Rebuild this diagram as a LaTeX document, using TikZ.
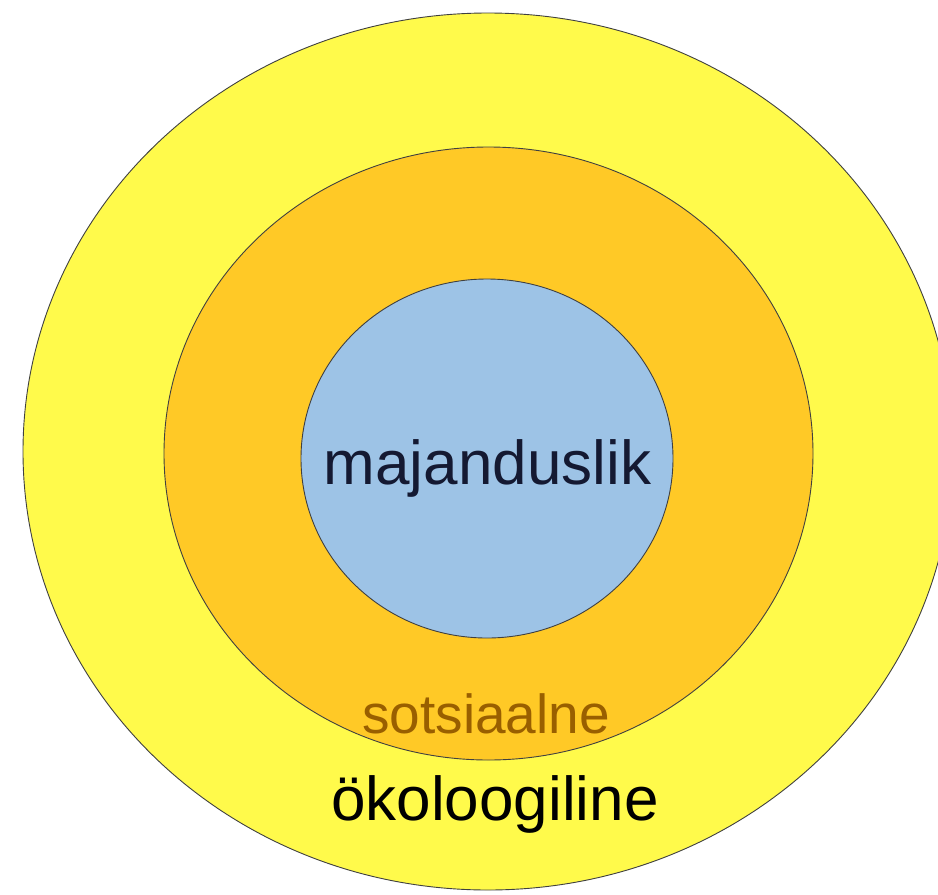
\documentclass[tikz,border=0pt]{standalone}
\usepackage{fontspec}
\setmainfont{Liberation Sans}
\usetikzlibrary{shapes.geometric}
\definecolor{okoyellow}{RGB}{255,250,75}
\definecolor{sotsorange}{RGB}{255,201,38}
\definecolor{majblue}{RGB}{157,195,230}
\definecolor{sotstext}{RGB}{153,95,0}
\definecolor{majtext}{RGB}{20,25,50}
\tikzset{
  ring/.style={draw=black!75, line width=0.9pt, ellipse, inner sep=0pt},
  lbl/.style={inner sep=0pt, anchor=base, font=\fontsize{62}{70}\selectfont},
}

\begin{document}
\begin{tikzpicture}[x=1pt,y=-1pt]
  \useasboundingbox[fill=white] (0,0) rectangle (938,895);
  % three nested spheres
  \node[ring, fill=okoyellow, minimum width=930pt, minimum height=877pt] (oko) at (488,451.5) {};
  \node[ring, fill=sotsorange, minimum width=649pt, minimum height=613pt] (sots) at (488.5,453.5) {};
  \node[ring, fill=majblue, minimum width=372pt, minimum height=359pt] (maj) at (487,458.5) {};
  % names
  \node[lbl, text=majtext] (majtxt) at (487.5,484.5) {majanduslik};
  \node[lbl, text=sotstext, font=\fontsize{55}{60}\selectfont] (sotstxt) at (486,733) {sotsiaalne};
  \node[lbl] (okotxt) at (495,820) {ökoloogiline};
\end{tikzpicture}
\end{document}
